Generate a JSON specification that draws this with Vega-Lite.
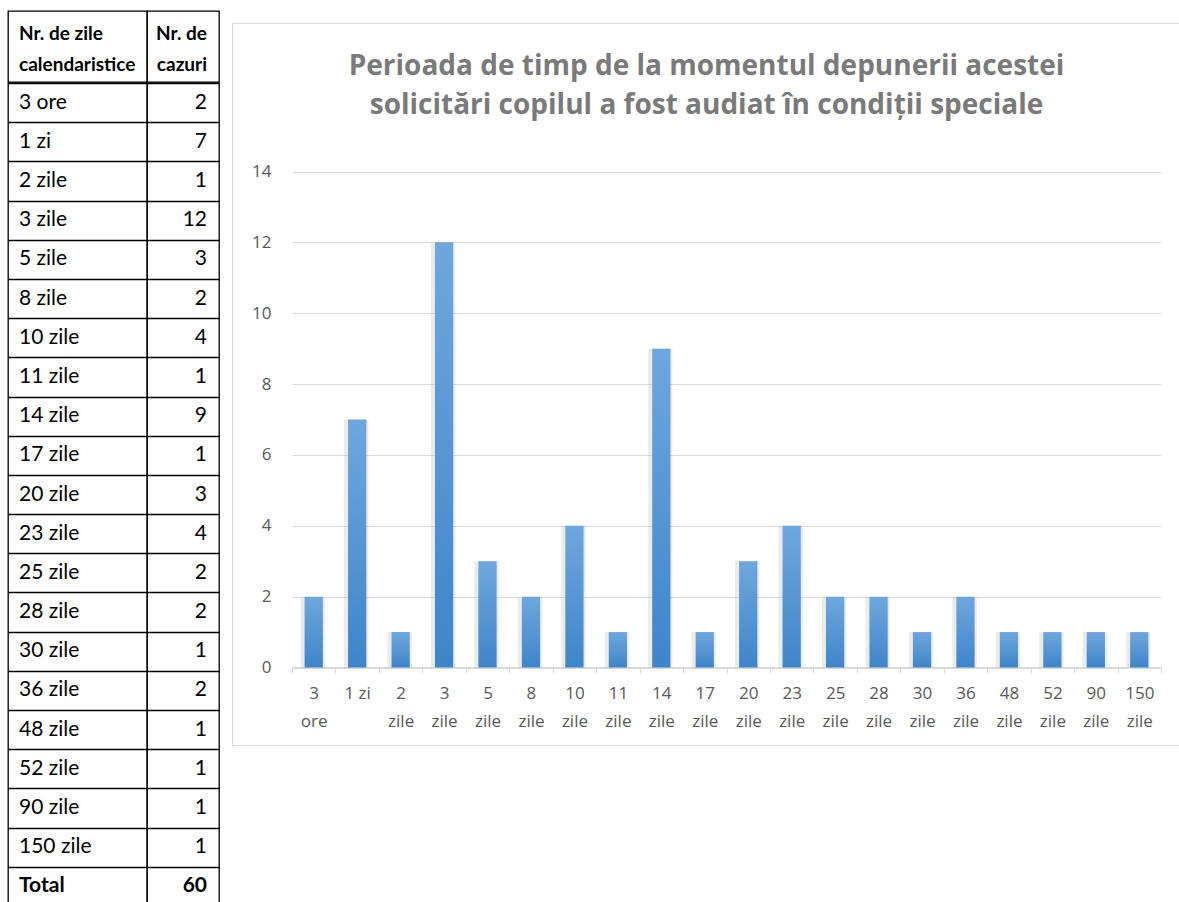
{
  "$schema": "https://vega.github.io/schema/vega-lite/v6.json",
  "padding": {"left": 7, "top": 10, "right": 0, "bottom": 0},
  "background": "white",
  "datasets": {
    "rows": [
      {"zile": "3 ore", "cazuri": 2},
      {"zile": "1 zi", "cazuri": 7},
      {"zile": "2 zile", "cazuri": 1},
      {"zile": "3 zile", "cazuri": 12},
      {"zile": "5 zile", "cazuri": 3},
      {"zile": "8 zile", "cazuri": 2},
      {"zile": "10 zile", "cazuri": 4},
      {"zile": "11 zile", "cazuri": 1},
      {"zile": "14 zile", "cazuri": 9},
      {"zile": "17 zile", "cazuri": 1},
      {"zile": "20 zile", "cazuri": 3},
      {"zile": "23 zile", "cazuri": 4},
      {"zile": "25 zile", "cazuri": 2},
      {"zile": "28 zile", "cazuri": 2},
      {"zile": "30 zile", "cazuri": 1},
      {"zile": "36 zile", "cazuri": 2},
      {"zile": "48 zile", "cazuri": 1},
      {"zile": "52 zile", "cazuri": 1},
      {"zile": "90 zile", "cazuri": 1},
      {"zile": "150 zile", "cazuri": 1},
      {"zile": "Total", "cazuri": 60}
    ],
    "hdr": [{"c1": "Nr. de zile\ncalendaristice", "c2": "Nr. de\ncazuri"}],
    "bars": [
      {"perioada": "3 ore", "cazuri": 2},
      {"perioada": "1 zi", "cazuri": 7},
      {"perioada": "2 zile", "cazuri": 1},
      {"perioada": "3 zile", "cazuri": 12},
      {"perioada": "5 zile", "cazuri": 3},
      {"perioada": "8 zile", "cazuri": 2},
      {"perioada": "10 zile", "cazuri": 4},
      {"perioada": "11 zile", "cazuri": 1},
      {"perioada": "14 zile", "cazuri": 9},
      {"perioada": "17 zile", "cazuri": 1},
      {"perioada": "20 zile", "cazuri": 3},
      {"perioada": "23 zile", "cazuri": 4},
      {"perioada": "25 zile", "cazuri": 2},
      {"perioada": "28 zile", "cazuri": 2},
      {"perioada": "30 zile", "cazuri": 1},
      {"perioada": "36 zile", "cazuri": 2},
      {"perioada": "48 zile", "cazuri": 1},
      {"perioada": "52 zile", "cazuri": 1},
      {"perioada": "90 zile", "cazuri": 1},
      {"perioada": "150 zile", "cazuri": 1}
    ]
  },
  "hconcat": [
    {
      "spacing": -2,
      "vconcat": [
        {
          "spacing": 0,
          "bounds": "flush",
          "hconcat": [
            {
              "width": 139, "height": 71,
              "data": {"name": "hdr"},
              "view": {"stroke": "black", "strokeWidth": 1.3},
              "mark": {"type": "text", "align": "left", "dx": -58.5, "dy": -12.5, "lineBreak": "\n", "lineHeight": 31, "font": "Lato", "fontWeight": "bold", "fontSize": 19, "color": "black"},
              "encoding": {"text": {"field": "c1", "type": "nominal"}}
            },
            {
              "width": 72, "height": 71,
              "data": {"name": "hdr"},
              "view": {"stroke": "black", "strokeWidth": 1.3},
              "mark": {"type": "text", "align": "right", "dx": 24, "dy": -12.5, "lineBreak": "\n", "lineHeight": 31, "font": "Lato", "fontWeight": "bold", "fontSize": 19, "color": "black"},
              "encoding": {"text": {"field": "c2", "type": "nominal"}}
            }
          ]
        },
        {
          "spacing": 0,
          "bounds": "flush",
          "hconcat": [
            {
              "width": 139, "height": 823,
              "data": {"name": "rows"},
              "view": {"stroke": "black", "strokeWidth": 1.3},
              "encoding": {
                "y": {"field": "zile", "type": "nominal", "sort": null,
                      "scale": {"paddingInner": 0, "paddingOuter": 0},
                      "axis": {"title": null, "labels": false, "ticks": false, "domain": false, "grid": true, "gridColor": "black", "gridWidth": 1.3, "gridOpacity": 1, "tickBand": "extent", "minExtent": 0, "maxExtent": 0}}
              },
              "layer": [
                {
                  "mark": {"type": "text", "align": "left", "dx": -58.5, "font": "Lato", "fontSize": 21, "color": "black"},
                  "encoding": {"text": {"field": "zile", "type": "nominal", "condition": {"test": "datum.zile == 'Total'", "value": ""}}}
                },
                {
                  "mark": {"type": "text", "align": "left", "dx": -58.5, "font": "Lato", "fontSize": 21, "fontWeight": "bold", "color": "black"},
                  "encoding": {"text": {"field": "zile", "type": "nominal", "condition": {"test": "datum.zile != 'Total'", "value": ""}}}
                }
              ]
            },
            {
              "width": 72, "height": 823,
              "data": {"name": "rows"},
              "view": {"stroke": "black", "strokeWidth": 1.3},
              "encoding": {
                "y": {"field": "zile", "type": "nominal", "sort": null,
                      "scale": {"paddingInner": 0, "paddingOuter": 0},
                      "axis": {"title": null, "labels": false, "ticks": false, "domain": false, "grid": true, "gridColor": "black", "gridWidth": 1.3, "gridOpacity": 1, "tickBand": "extent", "minExtent": 0, "maxExtent": 0}}
              },
              "layer": [
                {
                  "mark": {"type": "text", "align": "right", "dx": 24, "font": "Lato", "fontSize": 21, "color": "black"},
                  "encoding": {"text": {"field": "cazuri", "type": "quantitative", "condition": {"test": "datum.zile == 'Total'", "value": ""}}}
                },
                {
                  "mark": {"type": "text", "align": "right", "dx": 24, "font": "Lato", "fontSize": 21, "fontWeight": "bold", "color": "black"},
                  "encoding": {"text": {"field": "cazuri", "type": "quantitative", "condition": {"test": "datum.zile != 'Total'", "value": ""}}}
                }
              ]
            }
          ]
        }
      ]
    },
    {
      "spacing": 0,
      "vconcat": [
        {
          "width": 949, "height": 11,
          "data": {"values": []},
          "mark": {"type": "point", "opacity": 0}
        },
        {
          "width": 949, "height": 722,
          "data": {"name": "bars"},
          "view": {"stroke": "#d9d9d9", "strokeWidth": 1},
          "title": {
            "text": ["Perioada de timp de la momentul depunerii acestei", "solicitări copilul a fost audiat în condiții speciale"],
            "offset": -97, "anchor": "middle", "font": "Open Sans", "fontSize": 28, "fontWeight": "bold", "color": "#7a7a7a", "lineHeight": 39
          },
          "layer": [
            {
              "mark": {"type": "bar", "width": {"band": 0.56}, "color": "#bdbdbd", "opacity": 0.3, "xOffset": -1}
            },
            {
              "mark": {"type": "bar", "width": {"band": 0.42},
                       "color": {"gradient": "linear", "x1": 0, "y1": 0, "x2": 0, "y2": 1,
                                 "stops": [{"offset": 0, "color": "#6fa7dd"}, {"offset": 1, "color": "#3e85c9"}]}}
            }
          ],
          "encoding": {
            "x": {"field": "perioada", "type": "nominal", "sort": null,
                  "scale": {"range": [60, 929], "paddingInner": 0, "paddingOuter": 0},
                  "axis": {"orient": "bottom", "offset": -78, "title": null, "tickBand": "extent", "domainColor": "#d9d9d9", "tickColor": "#d9d9d9", "tickSize": 6, "labelAngle": 0, "labelColor": "#595959", "labelFont": "Open Sans", "labelFontSize": 17, "labelPadding": 12, "labelLineHeight": 28, "labelBaseline": "top", "labelExpr": "datum.label == '1 zi' ? datum.label : split(datum.label, ' ')"}},
            "y": {"field": "cazuri", "type": "quantitative",
                  "scale": {"domain": [0, 14], "range": [644.5, 148.5], "nice": false, "zero": true},
                  "axis": {"values": [0, 2, 4, 6, 8, 10, 12, 14], "grid": true, "gridColor": "#d9d9d9", "gridWidth": 1, "domain": false, "ticks": false, "tickSize": 0, "labelPadding": 0, "offset": -39, "labelColor": "#595959", "labelFont": "Open Sans", "labelFontSize": 17, "title": null}}
          }
        }
      ]
    }
  ],
  "spacing": 11,
  "config": {"view": {"stroke": null}}
}
